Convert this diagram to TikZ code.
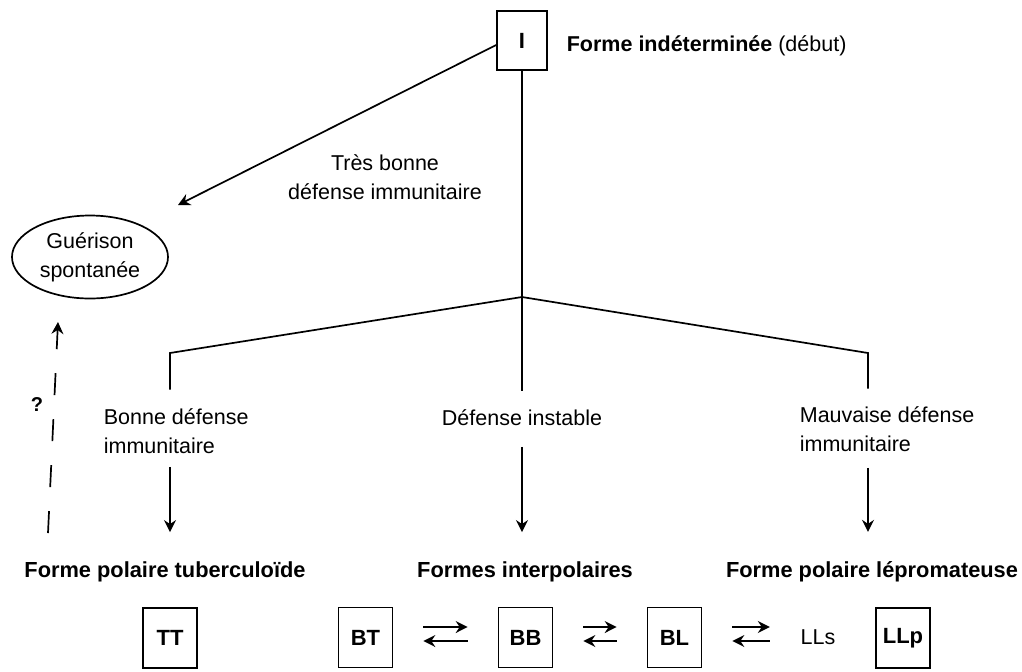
\documentclass[tikz,border=0pt]{standalone}
\usepackage{fontspec}
\setmainfont{Liberation Sans}
\usetikzlibrary{arrows.meta,shapes.geometric}
\tikzset{
    form/.style={draw, minimum width=27pt, minimum height=30pt, inner sep=0pt, font=\fontsize{11}{14}\selectfont\bfseries},
    lab/.style={inner sep=0pt, align=left},
    title/.style={inner sep=0pt, anchor=base, font=\fontsize{10.9}{14}\selectfont\bfseries},
    arr/.style={-{Stealth[length=6pt,width=6pt,inset=2pt]}},
}
\begin{document}
\begin{tikzpicture}[x=0.5pt, y=-0.5pt, line width=0.85pt,
    font=\fontsize{10.75}{14.5}\selectfont]
    \useasboundingbox (0,0) rectangle (1022,671);

    % Start
    \node[form, minimum width=25pt, minimum height=29.5pt] (i) at (522,40.5) {I};
    \node[inner sep=0pt, anchor=base west] (ilab) at (566,51.5) {\textbf{Forme indéterminée} (début)};

    % Spontaneous healing
    \node[draw, ellipse, minimum width=78pt, minimum height=41.5pt, inner sep=0pt, align=center] (heal) at (90,257) {Guérison\\spontanée};
    \node[lab, align=center] (tbd) at (385,177) {Très bonne\\défense immunitaire};
    \coordinate (tbtip) at (178,205);
    \draw[arr] ([yshift=-2.25pt]i.west) -- (tbtip);

    % Question
    \node[inner sep=0pt, font=\bfseries] (q) at (37,405) {?};
    \coordinate (qfoot) at (48,533);
    \coordinate (qtip) at (58,322);
    \draw[arr, dash pattern=on 11pt off 12pt] (qfoot) -- (qtip);

    % Branches
    \coordinate (apex) at (522,297);
    \coordinate (lcorner) at (170,353);
    \coordinate (rcorner) at (868,353);
    \node[lab, anchor=west] (good) at (103,431) {Bonne défense\\immunitaire};
    \node[lab] (unst) at (522,418) {Défense instable};
    \node[lab, anchor=west] (bad) at (799,429) {Mauvaise défense\\immunitaire};
    \draw[shorten >=9pt] (i.south) -- (apex) -- (unst.north);
    \draw[shorten >=9pt] (apex) -- (lcorner) -- (lcorner |- good.north);
    \draw[shorten >=8.5pt] (apex) -- (rcorner) -- (rcorner |- bad.north);

    % Forms
    \node[title] (ttl) at (165,577.7) {Forme polaire tuberculoïde};
    \node[title] (itl) at (525,577.7) {Formes interpolaires};
    \node[title] (ltl) at (872,577.7) {Forme polaire lépromateuse};
    \draw[arr, shorten <=6.25pt, shorten >=14.5pt] (lcorner |- good.south) -- (lcorner |- ttl.north);
    \draw[arr, shorten <=10pt, shorten >=14.5pt] (unst.south) -- (unst |- itl.north);
    \draw[arr, shorten <=7.75pt, shorten >=14.5pt] (rcorner |- bad.south) -- (rcorner |- ltl.north);

    \node[form] (tt) at (170,638) {TT};
    \node[form] (bt) at (365.5,637.5) {BT};
    \node[form] (bb) at (525.5,637.5) {BB};
    \node[form] (bl) at (674.5,637.5) {BL};
    \node[inner sep=0pt] (lls) at (818,637.5) {LLs};
    \node[form] (llp) at (903,638) {LLp};
    \foreach \a/\b in {bt/bb,bb/bl,bl/lls} {
        \draw[arr] ([shift={(15pt,5.25pt)}]\a.east) -- ([shift={(-15pt,5.25pt)}]\b.west);
        \draw[arr] ([shift={(-15pt,-1.75pt)}]\b.west) -- ([shift={(15pt,-1.75pt)}]\a.east);
    }
\end{tikzpicture}
\end{document}
